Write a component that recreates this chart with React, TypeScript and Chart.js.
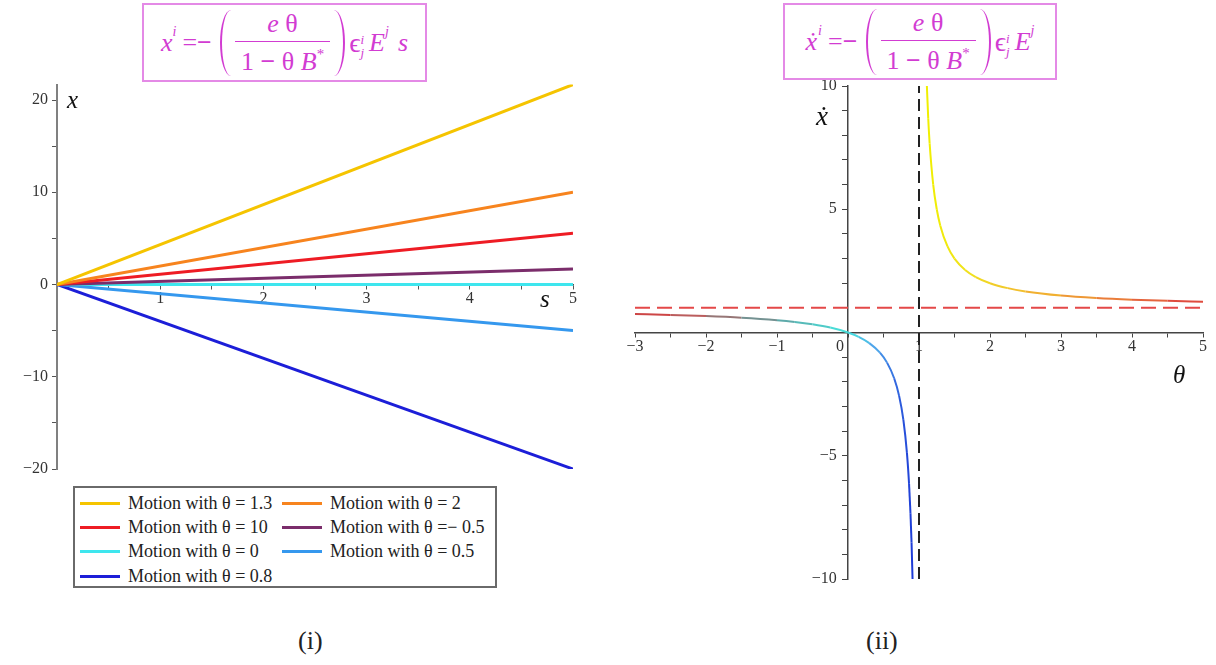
import React, { useEffect, useRef } from 'react';
import { Chart, registerables } from 'chart.js';

Chart.register(...registerables);

const SERIF = '"Liberation Serif", "Times New Roman", serif';
const MAGENTA = '#d23cd2';
const BOX_BORDER = '#e48ae6';

// ---------- (i) x = -(eθ/(1-θB*)) ε E s ----------
const sValues = [0, 5];
const thetaLabels = ['1.3', '2', '10', '=\u2212 0.5', '0', '0.5', '0.8'];
const xAtS0 = [0, 0, 0, 0, 0, 0, 0];
const xAtS5 = [21.67, 10, 5.56, 1.67, 0, -5, -20];
const motionColors = ['#f5c400', '#f7841e', '#ee1c24', '#7b2d6b', '#3ee6ee', '#3598ee', '#1c1ed8'];

// ---------- (ii) xdot vs θ ----------
const thetaNeg = [-3, -2.5, -2, -1.5, -1, -0.75, -0.5, -0.25, 0, 0.15, 0.3, 0.45, 0.55, 0.65, 0.72, 0.78, 0.83, 0.86, 0.88, 0.895, 0.909];
const xdotNeg = [0.75, 0.714, 0.667, 0.6, 0.5, 0.429, 0.333, 0.2, 0, -0.176, -0.429, -0.818, -1.222, -1.857, -2.571, -3.545, -4.882, -6.143, -7.333, -8.524, -10];
const thetaPos = [1.111, 1.13, 1.15, 1.2, 1.25, 1.3, 1.4, 1.5, 1.65, 1.8, 2, 2.25, 2.5, 3, 3.5, 4, 4.5, 5];
const xdotPos = [10, 8.69, 7.667, 6, 5, 4.333, 3.5, 3, 2.538, 2.25, 2, 1.8, 1.667, 1.5, 1.4, 1.333, 1.286, 1.25];
const hAsymTheta = [-3, 5];
const hAsymXdot = [1, 1];
const vAsymTheta = [1, 1];
const vAsymXdot = [-10, 10];

type Stop = [number, [number, number, number]];
const negStops: Stop[] = [
  [-3, [214, 58, 58]],
  [-2.2, [185, 95, 95]],
  [-1.5, [130, 130, 130]],
  [-0.8, [90, 175, 175]],
  [0, [70, 228, 222]],
  [0.35, [80, 170, 235]],
  [0.9, [30, 60, 215]],
];
const posStops: Stop[] = [
  [1.1, [240, 240, 0]],
  [1.7, [240, 225, 30]],
  [2.3, [242, 195, 45]],
  [3, [240, 165, 50]],
  [4, [232, 112, 60]],
  [5, [220, 62, 62]],
];

function colorAt(stops: Stop[], t: number): string {
  if (t <= stops[0][0]) return `rgb(${stops[0][1].join(',')})`;
  for (let i = 1; i < stops.length; i++) {
    if (t <= stops[i][0]) {
      const [t0, c0] = stops[i - 1];
      const [t1, c1] = stops[i];
      const f = (t - t0) / (t1 - t0);
      const c = c0.map((v, k) => Math.round(v + (c1[k] - v) * f));
      return `rgb(${c.join(',')})`;
    }
  }
  return `rgb(${stops[stops.length - 1][1].join(',')})`;
}

const fmt = (v: number) => (v < 0 ? '\u2212' + Math.abs(v) : String(v));
const zip = (xs: number[], ys: number[]) => xs.map((x, i) => ({ x, y: ys[i] }));

const tickFont = { family: SERIF, size: 16 };

const noPad = (s: any) => {
  s.paddingTop = 0;
  s.paddingBottom = 0;
  s.paddingLeft = 0;
  s.paddingRight = 0;
};

function Paren({ side }: { side: 'l' | 'r' }) {
  const common: React.CSSProperties = {
    display: 'inline-block',
    width: 11,
    height: 66,
    boxSizing: 'border-box',
    flex: '0 0 auto',
  };
  return side === 'l' ? (
    <span style={{ ...common, borderLeft: `2px solid ${MAGENTA}`, borderRadius: '11px 0 0 11px / 33px 0 0 33px', marginLeft: 8 }} />
  ) : (
    <span style={{ ...common, borderRight: `2px solid ${MAGENTA}`, borderRadius: '0 11px 11px 0 / 0 33px 33px 0', marginRight: 4 }} />
  );
}

function Formula({ dot, tail }: { dot: boolean; tail: boolean }) {
  const sup: React.CSSProperties = { fontSize: 14, position: 'relative', top: -11, fontStyle: 'italic' };
  return (
    <div
      style={{
        display: 'flex',
        alignItems: 'center',
        justifyContent: 'center',
        height: '100%',
        fontFamily: SERIF,
        color: MAGENTA,
        fontSize: 26,
        whiteSpace: 'nowrap',
      }}
    >
      <span style={{ fontStyle: 'italic' }}>{dot ? '\u1E8B' : 'x'}</span>
      <span style={{ ...sup, marginLeft: dot ? 1 : 0 }}>i</span>
      <span style={{ marginLeft: 6 }}>=</span>
      <span style={{ fontWeight: 'bold' }}>{'\u2212'}</span>
      <Paren side="l" />
      <span style={{ display: 'inline-flex', flexDirection: 'column', alignItems: 'center', margin: '0 4px', lineHeight: 1.05 }}>
        <span style={{ padding: '0 10px 4px', borderBottom: `1.5px solid ${MAGENTA}`, width: '100%', textAlign: 'center', boxSizing: 'border-box' }}>
          <i>e</i> {'\u03B8'}
        </span>
        <span style={{ padding: '6px 6px 0' }}>
          1 <b>{'\u2212'}</b> {'\u03B8'} <i>B</i>
          <span style={{ fontSize: 15, position: 'relative', top: -11 }}>*</span>
        </span>
      </span>
      <Paren side="r" />
      <span style={{ fontSize: 28 }}>{'\u03F5'}</span>
      <span style={{ display: 'inline-flex', flexDirection: 'column', fontSize: 13, fontStyle: 'italic', lineHeight: '13px', marginTop: 6 }}>
        <span>i</span>
        <span>j</span>
      </span>
      <span style={{ fontStyle: 'italic', marginLeft: 5 }}>E</span>
      <span style={sup}>j</span>
      {tail && <span style={{ fontStyle: 'italic', marginLeft: 9 }}>s</span>}
    </div>
  );
}

export default function App() {
  const leftRef = useRef<HTMLCanvasElement | null>(null);
  const rightRef = useRef<HTMLCanvasElement | null>(null);

  useEffect(() => {
    const left = new Chart(leftRef.current as HTMLCanvasElement, {
      type: 'line',
      data: {
        datasets: xAtS5.map((v, i) => ({
          label: `Motion with \u03B8 = ${thetaLabels[i]}`,
          data: zip(sValues, [xAtS0[i], v]),
          borderColor: motionColors[i],
          backgroundColor: motionColors[i],
          borderWidth: 3,
          pointRadius: 0,
          fill: false,
        })),
      },
      options: {
        animation: false,
        responsive: false,
        maintainAspectRatio: false,
        layout: { padding: { left: 0, top: 4.6, right: 27, bottom: 11 } },
        plugins: { legend: { display: false }, tooltip: { enabled: false } },
        scales: {
          x: {
            type: 'linear',
            min: 0,
            max: 5,
            position: { y: 0 } as any,
            afterFit: (s: any) => {
              s.height = 0;
              noPad(s);
            },
            ticks: {
              stepSize: 0.5,
              autoSkip: false,
              maxRotation: 0,
              padding: 1,
              font: tickFont,
              color: '#333',
              callback: (v: any) => (Number.isInteger(v) && v !== 0 ? fmt(v) : ''),
            },
            grid: { drawOnChartArea: false, drawTicks: true, tickLength: 4, color: '#555' },
            border: { display: true, color: '#555', width: 1.5 },
          },
          y: {
            type: 'linear',
            min: -20,
            max: 21.67,
            position: 'left',
            afterFit: (s: any) => {
              s.width = 57;
              noPad(s);
            },
            ticks: {
              stepSize: 5,
              includeBounds: false,
              autoSkip: false,
              padding: 4,
              font: tickFont,
              color: '#333',
              callback: (v: any) => (v % 10 === 0 ? fmt(v) : ''),
            },
            grid: { drawOnChartArea: false, drawTicks: true, tickLength: 5, color: '#555' },
            border: { display: true, color: '#808080', width: 2 },
          },
        },
      },
    });

    const segColor = (stops: Stop[]) => (ctx: any) => colorAt(stops, (ctx.p0.parsed.x + ctx.p1.parsed.x) / 2);
    const yLabelGap = '\u2002\u2009';

    const right = new Chart(rightRef.current as HTMLCanvasElement, {
      type: 'line',
      data: {
        datasets: [
          {
            label: 'vertical asymptote',
            data: zip(vAsymTheta, vAsymXdot),
            borderColor: '#222',
            borderWidth: 2,
            borderDash: [12, 6],
            pointRadius: 0,
          },
          {
            label: 'horizontal asymptote',
            data: zip(hAsymTheta, hAsymXdot),
            borderColor: '#e44848',
            borderWidth: 2,
            borderDash: [15, 7],
            pointRadius: 0,
          },
          {
            label: 'theta < 1',
            data: zip(thetaNeg, xdotNeg),
            borderColor: '#40c0d0',
            borderWidth: 2,
            pointRadius: 0,
            cubicInterpolationMode: 'monotone',
            segment: { borderColor: segColor(negStops) },
          },
          {
            label: 'theta > 1',
            data: zip(thetaPos, xdotPos),
            borderColor: '#f0e000',
            borderWidth: 2,
            pointRadius: 0,
            cubicInterpolationMode: 'monotone',
            segment: { borderColor: segColor(posStops) },
          },
        ],
      },
      options: {
        animation: false,
        responsive: false,
        maintainAspectRatio: false,
        layout: { padding: { left: 35, top: 6, right: 13, bottom: 21 } },
        plugins: { legend: { display: false }, tooltip: { enabled: false } },
        scales: {
          x: {
            type: 'linear',
            min: -3,
            max: 5,
            position: { y: 0 } as any,
            afterFit: (s: any) => {
              s.height = 0;
              noPad(s);
            },
            ticks: {
              stepSize: 0.5,
              autoSkip: false,
              maxRotation: 0,
              padding: 1,
              font: tickFont,
              color: '#333',
              callback: (v: any) => (Number.isInteger(v) ? (v === 0 ? '0\u2002\u2002' : fmt(v)) : ''),
            },
            grid: { drawOnChartArea: false, drawTicks: true, tickLength: 4, color: '#444' },
            border: { display: true, color: '#444', width: 1.5 },
          },
          y: {
            type: 'linear',
            min: -10,
            max: 10,
            position: { x: 0 } as any,
            afterFit: (s: any) => {
              s.width = 0;
              noPad(s);
            },
            ticks: {
              stepSize: 1,
              autoSkip: false,
              padding: 2,
              font: tickFont,
              color: '#333',
              callback: (v: any) => (v % 5 === 0 && v !== 0 ? fmt(v) + yLabelGap : ''),
            },
            grid: { drawOnChartArea: false, drawTicks: true, tickLength: 5, color: '#444' },
            border: { display: true, color: '#444', width: 1.5 },
          },
        },
      },
    });

    return () => {
      left.destroy();
      right.destroy();
    };
  }, []);

  const abs = (l: number, t: number): React.CSSProperties => ({ position: 'absolute', left: l, top: t });
  const axisLabel: React.CSSProperties = { fontFamily: SERIF, fontStyle: 'italic', fontSize: 25, lineHeight: 1, color: '#111' };

  return (
    <div style={{ position: 'absolute', left: 0, top: 0, width: 1216, height: 665, background: '#fff', overflow: 'hidden' }}>
      <div style={{ ...abs(142, 3), width: 285, height: 79, border: `2px solid ${BOX_BORDER}`, boxSizing: 'border-box' }}>
        <Formula dot={false} tail={true} />
      </div>
      <div style={{ ...abs(783, 3), width: 274, height: 77, border: `2px solid ${BOX_BORDER}`, boxSizing: 'border-box' }}>
        <Formula dot={true} tail={false} />
      </div>

      <canvas ref={leftRef} width={600} height={400} style={{ ...abs(0, 80), width: 600, height: 400 }} />
      <canvas ref={rightRef} width={616} height={520} style={{ ...abs(600, 80), width: 616, height: 520 }} />

      <div style={{ ...abs(67, 87), ...axisLabel }}>x</div>
      <div style={{ ...abs(540, 286), ...axisLabel }}>s</div>
      <div style={{ ...abs(816, 103), ...axisLabel, fontSize: 27 }}>{'\u1E8B'}</div>
      <div style={{ ...abs(1173, 362), ...axisLabel }}>{'\u03B8'}</div>

      <div
        style={{
          ...abs(73, 486),
          width: 424,
          height: 102,
          border: '2px solid #6a6a6a',
          boxSizing: 'border-box',
          padding: '3px 0 0 5px',
          display: 'grid',
          gridTemplateColumns: '202px 1fr',
          gridAutoRows: '24.3px',
          fontFamily: SERIF,
          fontSize: 18,
          color: '#222',
        }}
      >
        {thetaLabels.map((lab, i) => (
          <div key={i} style={{ display: 'flex', alignItems: 'center', whiteSpace: 'nowrap' }}>
            <span style={{ display: 'inline-block', width: 40, height: 3, background: motionColors[i], marginRight: 8 }} />
            <span>{`Motion with \u03B8 ${lab.startsWith('=') ? lab : '= ' + lab}`}</span>
          </div>
        ))}
      </div>

      <div style={{ ...abs(298, 628), fontFamily: SERIF, fontSize: 26, lineHeight: 1, color: '#222' }}>(i)</div>
      <div style={{ ...abs(866, 628), fontFamily: SERIF, fontSize: 26, lineHeight: 1, color: '#222' }}>(ii)</div>
    </div>
  );
}
